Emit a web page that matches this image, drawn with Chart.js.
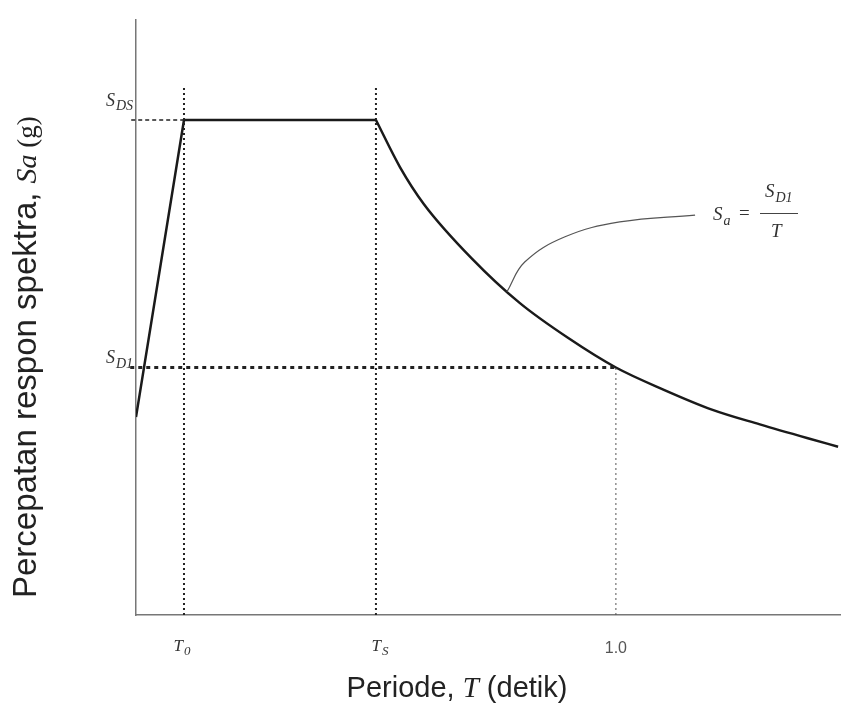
<!DOCTYPE html>
<html>
<head>
<meta charset="utf-8">
<script src="https://cdn.jsdelivr.net/npm/chart.js@4/dist/chart.umd.min.js"></script>
<style>
  html, body { margin: 0; padding: 0; background: #fff; }
  canvas { display: block; }
</style>
</head>
<body>
<canvas id="spectrum" width="850" height="718"></canvas>
<script>
// periods (detik) and spectral acceleration (g)
const rise_T = [0, 0.1, 0.5];
const rise_Sa = [0.4, 1.0, 1.0];
const decay_T = [0.5, 0.55, 0.6, 0.7, 0.8, 0.9, 1.0, 1.1, 1.2, 1.3, 1.4, 1.463];
const decay_Sa = [1.0, 0.905, 0.83, 0.72, 0.63, 0.56, 0.5, 0.455, 0.415, 0.385, 0.357, 0.34];

// characteristic points
const T0 = 0.1;
const TS = 0.5;
const T1 = 1.0;
const SDS = 1.0;
const SD1 = 0.5;

// leader line from the curve to the formula
const leader_T = [0.773, 0.81, 0.894, 1.008, 1.165];
const leader_Sa = [0.653, 0.713, 0.764, 0.794, 0.808];

const pts = (xs, ys) => xs.map((x, i) => ({ x: x, y: ys[i] }));

const serif_face = "'Liberation Serif', 'DejaVu Serif', serif";
const sans = "'Liberation Sans', Arial, sans-serif";

// draws a letter + subscript, aligned on x
const sub_text = (ctx, x, y, main, sub, align, size) => {
    size = size || 17;
    const f1 = "italic " + size + "px " + serif_face;
    const f2 = "italic " + Math.round(size * 0.75) + "px " + serif_face;
    ctx.font = f1;
    const w1 = ctx.measureText(main).width;
    ctx.font = f2;
    const w2 = ctx.measureText(sub).width;
    const w = w1 + w2 + 1;
    const left = align === "right" ? x - w : align === "center" ? x - w / 2 : x;
    ctx.font = f1;
    ctx.fillText(main, left, y);
    ctx.font = f2;
    ctx.fillText(sub, left + w1 + 1, y + size * 0.25);
    return w;
};

const labels_plugin = {
    id: "labels",
    afterDraw(chart) {
        const ctx = chart.ctx;
        const xs = chart.scales.x;
        const ys = chart.scales.y;
        ctx.save();
        ctx.fillStyle = "#333";
        ctx.textBaseline = "alphabetic";
        ctx.textAlign = "left";

        // y value labels
        sub_text(ctx, xs.getPixelForValue(0) - 3, ys.getPixelForValue(SDS) - 14, "S", "DS", "right", 18);
        sub_text(ctx, xs.getPixelForValue(0) - 3, ys.getPixelForValue(SD1) - 4, "S", "D1", "right", 18);

        // x value labels
        sub_text(ctx, xs.getPixelForValue(T0) - 2, 651, "T", "0", "center", 17);
        sub_text(ctx, xs.getPixelForValue(TS) + 4, 651, "T", "S", "center", 17);
        ctx.font = "16px " + sans;
        ctx.fillStyle = "#555";
        ctx.textAlign = "center";
        ctx.fillText("1.0", xs.getPixelForValue(T1), 653);

        // formula Sa = SD1 / T
        ctx.textAlign = "left";
        ctx.fillStyle = "#333";
        const fy = 220;
        sub_text(ctx, 713, fy, "S", "a", "left", 19);
        ctx.font = "19px " + serif_face;
        ctx.fillText("=", 739, fy - 1);
        const barL = 760;
        const barR = 798;
        sub_text(ctx, 765, 197, "S", "D1", "left", 19);
        ctx.font = "italic 19px " + serif_face;
        ctx.fillText("T", 771, 237);
        ctx.strokeStyle = "#444";
        ctx.lineWidth = 1;
        ctx.beginPath();
        ctx.moveTo(barL, 213.5);
        ctx.lineTo(barR, 213.5);
        ctx.stroke();

        // x axis title
        ctx.fillStyle = "#222";
        const tfont = "29px " + sans;
        const parts_x = [
            ["Periode, ", tfont],
            ["T", "italic 29px " + serif_face],
            [" (detik)", tfont],
        ];
        let total = 0;
        parts_x.forEach(([t, f]) => { ctx.font = f; total += ctx.measureText(t).width; });
        let px = 457 - total / 2;
        parts_x.forEach(([t, f]) => { ctx.font = f; ctx.fillText(t, px, 697); px += ctx.measureText(t).width; });

        // y axis title, rotated, starting just above the x axis
        ctx.translate(36, 598);
        ctx.rotate(-Math.PI / 2);
        const parts_y = [
            ["Percepatan respon spektra, ", "33px " + sans],
            ["S", "italic 30px " + serif_face],
            ["a", "italic 28px " + serif_face],
            [" (g)", "27px " + serif_face],
        ];
        px = 0;
        parts_y.forEach(([t, f]) => { ctx.font = f; ctx.fillText(t, px, 0); px += ctx.measureText(t).width; });
        ctx.restore();
    },
};

const ref_line = (data, width, dash, color) => ({
    data: data,
    borderColor: color || "#222",
    borderWidth: width,
    borderDash: dash,
    pointRadius: 0,
    tension: 0,
    clip: false,
});

const ctx = document.getElementById("spectrum").getContext("2d");
const chart = new Chart(ctx, {
    type: "line",
    plugins: [labels_plugin],
    data: {
        datasets: [
            ref_line([{ x: -0.01, y: SDS }, { x: T0, y: SDS }], 1.3, [4, 3]),
            ref_line([{ x: T0, y: 0 }, { x: T0, y: 1.065 }], 2, [2, 3]),
            ref_line([{ x: TS, y: 0 }, { x: TS, y: 1.065 }], 2, [2, 3]),
            ref_line([{ x: -0.012, y: SD1 }, { x: T1, y: SD1 }], 3, [4, 4]),
            ref_line([{ x: T1, y: 0 }, { x: T1, y: SD1 }], 1, [2, 3], "#555"),
            {
                data: pts(leader_T, leader_Sa),
                borderColor: "#555",
                borderWidth: 1.2,
                pointRadius: 0,
                tension: 0.4,
            },
            {
                data: pts(rise_T, rise_Sa),
                borderColor: "#1a1a1a",
                borderWidth: 2.5,
                pointRadius: 0,
                tension: 0,
            },
            {
                data: pts(decay_T, decay_Sa),
                borderColor: "#1a1a1a",
                borderWidth: 2.5,
                pointRadius: 0,
                cubicInterpolationMode: "monotone",
            },
        ],
    },
    options: {
        responsive: false,
        animation: false,
        layout: { padding: { left: 136, top: 20, right: 10, bottom: 103 } },
        plugins: { legend: { display: false }, tooltip: { enabled: false } },
        scales: {
            x: {
                type: "linear",
                min: 0,
                max: 1.467,
                grid: { display: false },
                ticks: { display: false },
                border: { color: "#777", width: 1.5 },
                afterFit: (s) => { s.height = 0; },
            },
            y: {
                type: "linear",
                min: 0,
                max: 1.202,
                grid: { display: false },
                ticks: { display: false },
                border: { color: "#777", width: 1.5 },
                afterFit: (s) => { s.width = 0; },
            },
        },
    },
});
</script>
</body>
</html>
